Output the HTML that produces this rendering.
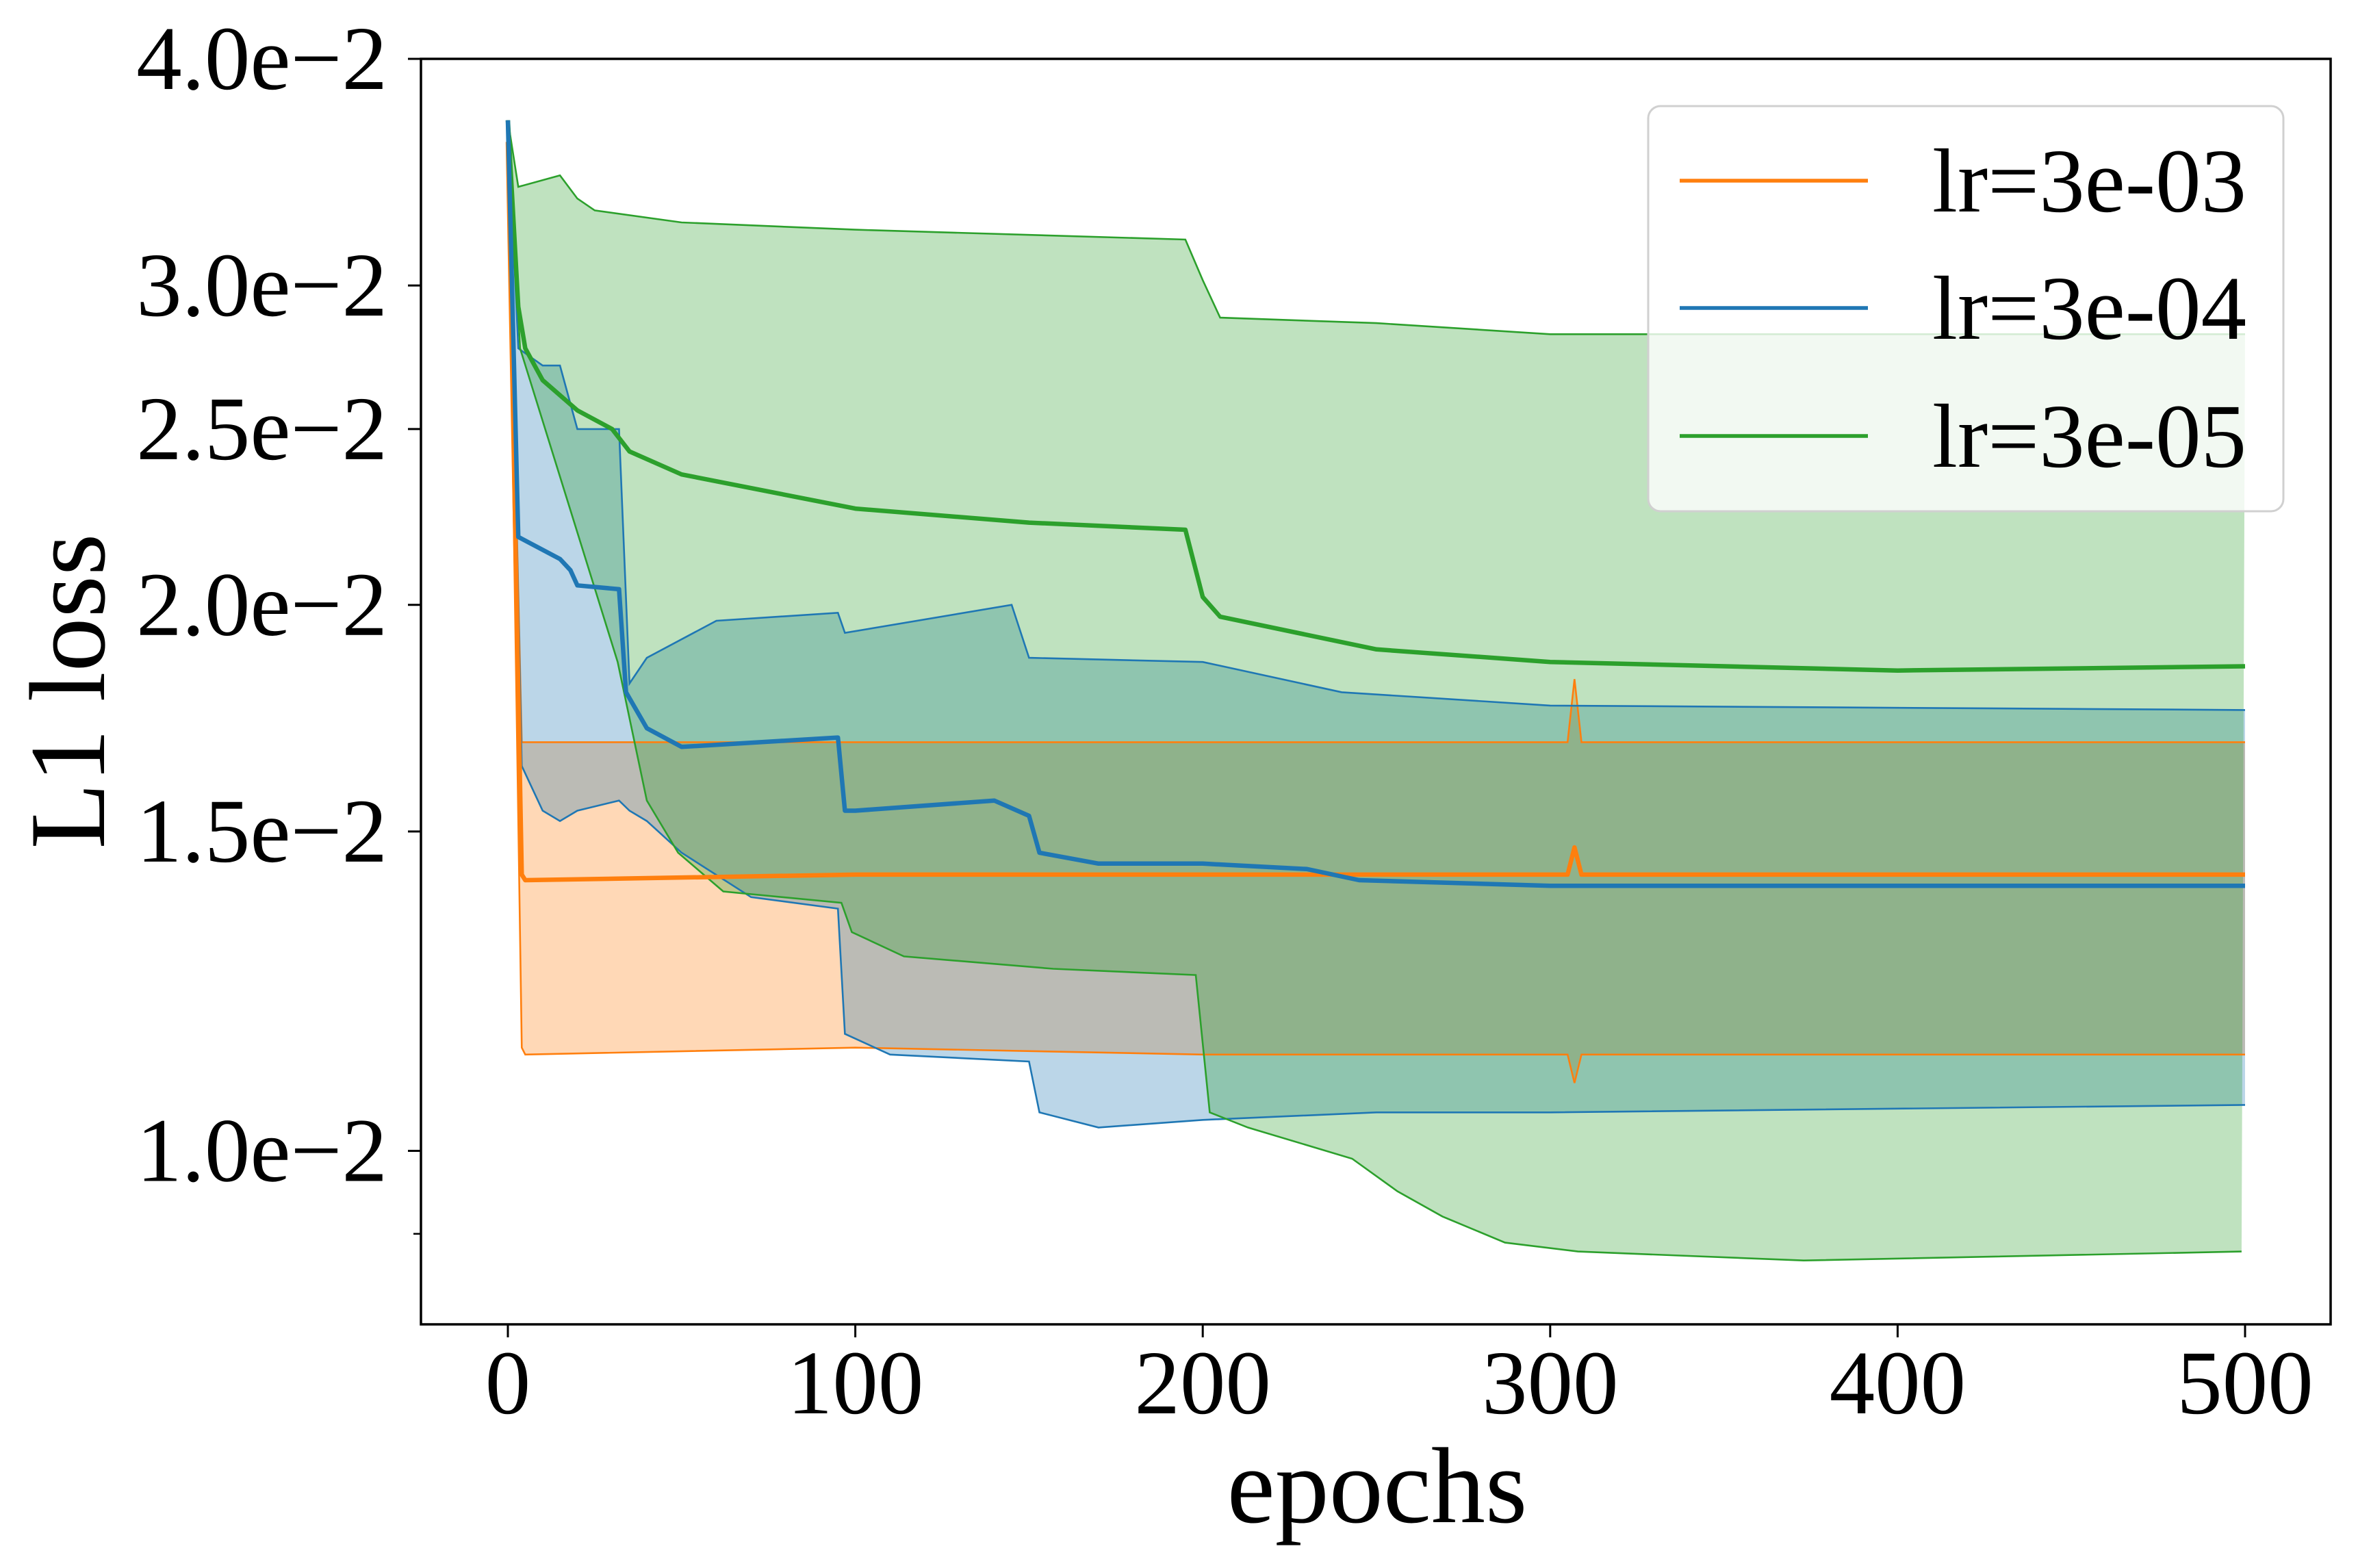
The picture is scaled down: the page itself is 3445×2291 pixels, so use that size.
<!DOCTYPE html>
<html><head><meta charset="utf-8"><style>
html,body{margin:0;padding:0;background:#fff}
svg{display:block}
text{font-family:"Liberation Serif","DejaVu Serif",serif;fill:#000}
</style></head><body>
<svg id="chart" width="3445" height="2291" viewBox="0 0 3445 2291" xmlns="http://www.w3.org/2000/svg">
<g id="fills"></g>
<g id="edges"></g>
<g id="means"></g>
<g id="axes"></g>
<g id="legend"></g>
</svg>
<script>
const xTicks=[0,100,200,300,400,500];
const yTicks=[0.04,0.03,0.025,0.02,0.015,0.01];
const yTickLabels=["4.0e\u22122","3.0e\u22122","2.5e\u22122","2.0e\u22122","1.5e\u22122","1.0e\u22122"];
const yMinorTicks=[0.009];
const seriesNames=["lr=3e-03","lr=3e-04","lr=3e-05"];
const colors=["#ff7f0e","#1f77b4","#2ca02c"];

const orangeMeanX=[0,4,5,100,200,305,307,309,500];
const orangeMeanY=[0.036,0.0142,0.0141,0.0142,0.0142,0.0142,0.0147,0.0142,0.0142];
const orangeUpX=[0,4,5,100,200,305,307,309,500];
const orangeUpY=[0.036,0.0168,0.0168,0.0168,0.0168,0.0168,0.0182,0.0168,0.0168];
const orangeLoX=[0,4,5,100,200,305,307,309,500];
const orangeLoY=[0.036,0.0114,0.0113,0.0114,0.0113,0.0113,0.0109,0.0113,0.0113];

const blueMeanX=[0,3,15,18,20,32,34,40,50,95,97,100,140,150,153,170,200,230,245,300,500];
const blueMeanY=[0.037,0.0218,0.0212,0.0209,0.0205,0.0204,0.0179,0.0171,0.0167,0.0169,0.0154,0.0154,0.0156,0.0153,0.0146,0.0144,0.0144,0.0143,0.0141,0.0140,0.0140];
const blueUpX=[0,3,10,15,20,32,35,40,60,95,97,145,150,200,240,300,500];
const blueUpY=[0.037,0.0277,0.0271,0.0271,0.025,0.025,0.0181,0.0187,0.0196,0.0198,0.0193,0.02,0.0187,0.0186,0.0179,0.0176,0.0175];
const blueLoX=[0,4,10,15,20,32,35,40,50,70,95,97,110,150,153,170,200,250,300,500];
const blueLoY=[0.037,0.0163,0.0154,0.0152,0.0154,0.0156,0.0154,0.0152,0.0146,0.0138,0.0136,0.0116,0.0113,0.0112,0.0105,0.0103,0.0104,0.0105,0.0105,0.0106];

const greenMeanX=[0,3,5,10,20,30,35,50,100,150,195,200,205,250,300,400,500];
const greenMeanY=[0.037,0.0292,0.0277,0.0266,0.0256,0.025,0.0243,0.0236,0.0226,0.0222,0.022,0.0202,0.0197,0.0189,0.0186,0.0184,0.0185];
const greenUpX=[0,3,15,20,25,50,100,195,200,205,250,300,500];
const greenUpY=[0.037,0.034,0.0345,0.0335,0.033,0.0325,0.0322,0.0318,0.0302,0.0288,0.0286,0.0282,0.0282];
const greenLoX=[0,3.5,31.6,40,49,62,96,99,114,157,198,202,213,243,256,269,287,308,373,499];
const greenLoY=[0.037,0.0277,0.0186,0.0156,0.0146,0.0139,0.0137,0.0132,0.0128,0.0126,0.0125,0.0105,0.0103,0.0099,0.0095,0.0092,0.0089,0.0088,0.0087,0.0088];

const L=615,R=3405,T=86,B=1935;
const X0=742,X500=3280;
const sx=v=>X0+(X500-X0)*v/500;
const sy=v=>T+(Math.log10(0.04)-Math.log10(v))*2650;
const NS="http://www.w3.org/2000/svg";
function mk(tag,attrs,parent){const e=document.createElementNS(NS,tag);for(const k in attrs)e.setAttribute(k,attrs[k]);parent.appendChild(e);return e;}
const pts=(xs,ys)=>xs.map((x,i)=>sx(x).toFixed(1)+","+sy(ys[i]).toFixed(1));

const data=[
 [orangeMeanX,orangeMeanY,orangeUpX,orangeUpY,orangeLoX,orangeLoY],
 [blueMeanX,blueMeanY,blueUpX,blueUpY,blueLoX,blueLoY],
 [greenMeanX,greenMeanY,greenUpX,greenUpY,greenLoX,greenLoY]];
const fills=document.getElementById('fills'),edges=document.getElementById('edges'),means=document.getElementById('means');
data.forEach((d,i)=>{
 const up=pts(d[2],d[3]),lo=pts(d[4],d[5]).reverse();
 const f=mk('polygon',{points:up.concat(lo).join(' '),fill:colors[i],'fill-opacity':0.3,stroke:'none'},fills);
 
 
 const e1=mk('polyline',{points:up.join(' '),fill:'none',stroke:colors[i],'stroke-width':2.6},edges);
 
 
 const e2=mk('polyline',{points:pts(d[4],d[5]).join(' '),fill:'none',stroke:colors[i],'stroke-width':2.6},edges);
 
 
});
[0,2,1].forEach(i=>{
 const d=data[i];
 const m=mk('polyline',{points:pts(d[0],d[1]).join(' '),fill:'none',stroke:colors[i],'stroke-width':6.5,'stroke-linejoin':'round'},means);
 
 
});
const ax=document.getElementById('axes');
const fr=mk('rect',{x:L,y:T,width:R-L,height:B-T,fill:'none',stroke:'#000','stroke-width':3.5},ax);


xTicks.forEach(v=>{
 const t=mk('line',{x1:sx(v),x2:sx(v),y1:B,y2:B+19,stroke:'#000','stroke-width':3},ax);
 
 
 const l=mk('text',{x:sx(v),y:2065,'font-size':133,'text-anchor':'middle'},ax);l.textContent=v;
 
 
});
yTicks.forEach((v,i)=>{
 const t=mk('line',{x1:L-19,x2:L,y1:sy(v),y2:sy(v),stroke:'#000','stroke-width':3},ax);
 
 
 const l=mk('text',{x:566,y:sy(v)+44,'font-size':133,'text-anchor':'end'},ax);l.textContent=yTickLabels[i];
 
 
});
yMinorTicks.forEach(v=>{
 const t=mk('line',{x1:L-11,x2:L,y1:sy(v),y2:sy(v),stroke:'#000','stroke-width':2.5},ax);
 
 
});
const xt=mk('text',{x:2012,y:2224,'font-size':158,'text-anchor':'middle'},ax);xt.textContent='epochs';


const yt=mk('text',{x:0,y:0,'font-size':158,'text-anchor':'middle',transform:'translate(152,1010) rotate(-90)'},ax);yt.textContent='L1 loss';


const lg=document.getElementById('legend');
const box=mk('rect',{x:2408,y:155,width:928,height:592,rx:18,fill:'#fff','fill-opacity':0.8,stroke:'#d0d0d0','stroke-width':3},lg);


[264,450,637].forEach((y,i)=>{
 const ln=mk('line',{x1:2454,x2:2729,y1:y,y2:y,stroke:colors[i],'stroke-width':5.5},lg);
 
 
 const t=mk('text',{x:2823,y:y+45,'font-size':133},lg);t.textContent=seriesNames[i];
 
 
});
</script>
</body></html>
